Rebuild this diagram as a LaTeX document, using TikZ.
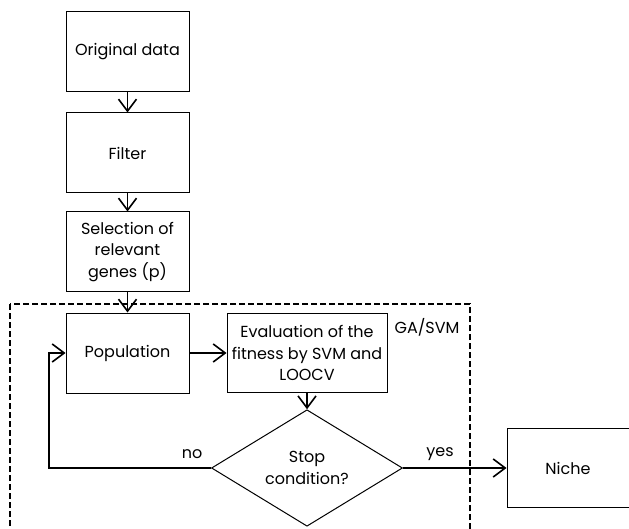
\documentclass[tikz,border=0pt]{standalone}
\usepackage{fontspec}
\setmainfont{Poppins}
\usetikzlibrary{arrows.meta, positioning, shapes.geometric}

\begin{document}
\begin{tikzpicture}[% styles used in image code
         x = 1pt, y = -1pt,
         > = {Straight Barb[length=12pt, width=18pt, line width=1.6pt]}, % defined in "arrows.meta
box/.style = {draw, line width=1pt,
              minimum width=123pt, minimum height=80pt,
              inner sep=0pt, align=center},
dec/.style = {diamond, draw, line width=1pt,
              minimum width=191pt, minimum height=105pt,
              inner sep=0pt, align=center},
con/.style = {->, line width=1.3pt},
font = \fontsize{16}{21.5}\selectfont
                        ]
	\useasboundingbox (0,0) rectangle (629,529);
	% upper chain
	\node[box] (orig)   at (127.5, 52) {Original data};
	\node[box] (filter) at (127.5,153) {Filter};
	\node[box] (sel)    at (127.5,252) {Selection of\\relevant\\genes (p)};
	
	% GA/SVM loop
	\draw[line width=1.3pt, dash pattern=on 6pt off 3pt] (10,304) rectangle (470,560);
	\node (ga) at (427,327) {GA/SVM};
	
	\node[box] (pop)  at (127.5,353) {Population};
	\node[box, minimum width=160pt, minimum height=79pt] (eval) at (307,353)
	      {Evaluation of the\\fitness by SVM and\\LOOCV};
	\node[dec] (stop) at (307,468) {Stop\\condition?};
	\node[box, minimum width=122pt, minimum height=79pt] (niche) at (568,468) {Niche};
	
	\coordinate (loop) at (49,468);
	
	\draw[con] (orig) -- (filter);
	\draw[con] (filter) -- (sel);
	\draw[con] (sel) -- (pop);
	\draw[con] (pop) -- (eval);
	\draw[con] (eval) -- (stop);
	\draw[con] (stop.west) -- (loop) |- (pop.west);
	\draw[con] (stop.east) -- (niche.west);
	
	\node (no)  at (192,454) {no};
	\node (yes) at (440,454) {yes};
\end{tikzpicture}
\end{document}
